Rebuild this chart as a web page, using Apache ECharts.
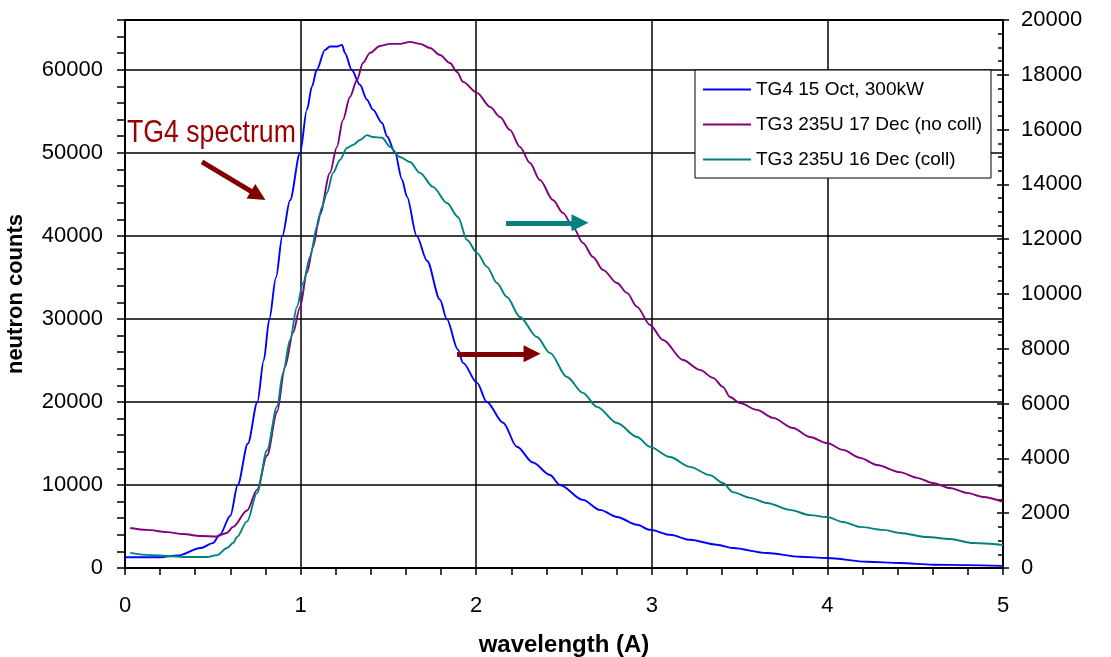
<!DOCTYPE html>
<html>
<head>
<meta charset="utf-8">
<script src="https://cdn.jsdelivr.net/npm/echarts@6/dist/echarts.min.js"></script>
<style>
  html, body { margin: 0; padding: 0; background: #fff; }
  #chart { width: 1111px; height: 657px; }
</style>
</head>
<body>
<div id="chart"></div>
<script>
// TG4 spectrum, 15 Oct, 300 kW (left axis)
const tg4Wavelength = [0.00, 0.10, 0.20, 0.30, 0.43, 0.50, 0.54, 0.60, 0.642, 0.70, 0.754, 0.79, 0.822, 0.86, 0.896, 0.94, 0.997, 1.036, 1.065, 1.092, 1.139, 1.167, 1.207, 1.236, 1.253, 1.291, 1.338, 1.378, 1.412, 1.464, 1.492, 1.538, 1.577, 1.606, 1.661, 1.72, 1.794, 1.832, 1.896, 1.925, 2.005, 2.06, 2.153, 2.232, 2.323, 2.42, 2.477, 2.608, 2.705, 2.802, 2.916, 2.99, 3.104, 3.217, 3.371, 3.462, 3.656, 3.844, 4.0, 4.226, 4.413, 4.601, 4.795, 5.0];
const tg4Counts = [1300, 1300, 1300, 1500, 2400, 3000, 4000, 6300, 10000, 15000, 20000, 25000, 30000, 35000, 40000, 44300, 50000, 55200, 58000, 60000, 62400, 62800, 62800, 63000, 62000, 60000, 58200, 56400, 55200, 53600, 52000, 50000, 46800, 44700, 40000, 37000, 32300, 30000, 26300, 24700, 22300, 20000, 17500, 14600, 12700, 11200, 10000, 8200, 7000, 6150, 5200, 4600, 4000, 3400, 2800, 2400, 1800, 1350, 1200, 750, 600, 400, 350, 250];

// TG3 235U, 17 Dec, no collimator (right axis)
const tg3NoCollWavelength = [0.03, 0.125, 0.24, 0.33, 0.43, 0.52, 0.58, 0.615, 0.695, 0.752, 0.809, 0.866, 0.911, 0.957, 0.997, 1.036, 1.071, 1.11, 1.167, 1.207, 1.241, 1.281, 1.321, 1.355, 1.395, 1.452, 1.509, 1.566, 1.623, 1.68, 1.737, 1.794, 1.851, 1.891, 1.925, 2.005, 2.079, 2.136, 2.192, 2.249, 2.306, 2.363, 2.437, 2.494, 2.551, 2.608, 2.665, 2.722, 2.802, 2.859, 2.916, 2.99, 3.064, 3.178, 3.274, 3.349, 3.405, 3.445, 3.502, 3.599, 3.69, 3.804, 3.901, 3.998, 4.089, 4.186, 4.282, 4.413, 4.51, 4.601, 4.698, 4.795, 4.886, 5.0];
const tg3NoCollCounts = [1460, 1390, 1310, 1240, 1170, 1150, 1280, 1500, 2100, 2850, 4100, 5700, 7340, 8580, 9530, 10770, 11720, 12900, 14420, 15370, 16350, 17190, 17810, 18430, 18800, 19050, 19130, 19130, 19200, 19130, 18980, 18720, 18430, 18100, 17740, 17340, 16830, 16460, 15990, 15370, 14780, 14160, 13430, 12960, 12450, 11860, 11350, 10880, 10400, 10040, 9530, 8870, 8320, 7590, 7230, 6940, 6610, 6240, 6020, 5770, 5480, 5110, 4780, 4560, 4310, 4020, 3760, 3500, 3290, 3100, 2920, 2740, 2590, 2410];

// TG3 235U, 16 Dec, with collimator (right axis)
const tg3CollWavelength = [0.03, 0.142, 0.24, 0.353, 0.467, 0.524, 0.581, 0.615, 0.638, 0.695, 0.752, 0.809, 0.866, 0.90, 0.94, 0.979, 1.014, 1.054, 1.093, 1.122, 1.15, 1.185, 1.224, 1.264, 1.298, 1.338, 1.378, 1.412, 1.464, 1.509, 1.566, 1.623, 1.68, 1.754, 1.834, 1.896, 1.948, 2.005, 2.062, 2.118, 2.175, 2.249, 2.346, 2.42, 2.517, 2.608, 2.688, 2.802, 2.916, 2.99, 3.104, 3.217, 3.331, 3.405, 3.462, 3.559, 3.656, 3.787, 3.901, 3.998, 4.089, 4.186, 4.317, 4.413, 4.567, 4.698, 4.829, 5.0];
const tg3CollCounts = [550, 470, 440, 400, 400, 470, 730, 910, 1130, 1700, 2740, 4300, 5900, 7120, 8320, 9530, 10400, 11350, 12450, 13180, 13690, 14420, 14890, 15330, 15440, 15620, 15800, 15730, 15700, 15370, 15000, 14820, 14420, 13910, 13320, 12810, 11970, 11500, 10990, 10400, 9890, 9160, 8430, 7850, 6970, 6390, 5880, 5290, 4780, 4420, 4050, 3690, 3390, 3100, 2770, 2560, 2370, 2120, 1930, 1860, 1680, 1500, 1390, 1280, 1130, 1060, 910, 840];

const seriesNames = ['TG4 15 Oct, 300kW', 'TG3 235U 17 Dec (no coll)', 'TG3 235U 16 Dec (coll)'];
const xTickLabels = ['0', '1', '2', '3', '4', '5'];

// Arrow annotations in left-axis data units: [x0, y0, x1, y1]
const arrowTG4 = [0.4385, 48920, 0.7585, 44840];
const arrowRedRight = [1.891, 25790, 2.318, 25790];
const arrowTealRight = [2.170, 41570, 2.591, 41570];

const FONT = 'Liberation Sans, Arial, sans-serif';
const BLACK = '#000';

function pairs(xs, ys) { return xs.map((x, i) => [x, ys[i]]); }
function arrow(a, color) {
  return [
    { coord: [a[0], a[1]], symbol: 'none', lineStyle: { color: color } },
    { coord: [a[2], a[3]], symbol: 'triangle', symbolSize: [17, 17], itemStyle: { color: color } }
  ];
}
function lineSeries(name, axis, xs, ys, color) {
  return {
    name: name, type: 'line', yAxisIndex: axis,
    data: pairs(xs, ys),
    symbol: 'none', smooth: 0.3, smoothMonotone: 'x',
    lineStyle: { color: color, width: 1.9 }, itemStyle: { color: color },
    emphasis: { disabled: true }
  };
}

const chart = echarts.init(document.getElementById('chart'), null, { renderer: 'canvas' });

const tg4 = lineSeries(seriesNames[0], 0, tg4Wavelength, tg4Counts, '#0000ff');
tg4.markLine = {
  silent: true, animation: false,
  label: { show: false },
  lineStyle: { type: 'solid', width: 5 },
  emphasis: { disabled: true },
  data: [
    arrow(arrowTG4, '#800000'),
    arrow(arrowRedRight, '#800000'),
    arrow(arrowTealRight, '#008080')
  ]
};

chart.setOption({
  animation: false,
  backgroundColor: '#fff',
  textStyle: { fontFamily: FONT },
  grid: {
    left: 125, right: 108, top: 20, bottom: 89,
    outerBoundsMode: 'none',
    show: true, borderColor: BLACK, borderWidth: 2, backgroundColor: 'transparent'
  },
  legend: {
    orient: 'vertical',
    left: 695, top: 70,
    padding: [9, 9, 8, 8],
    icon: 'rect',
    itemWidth: 48, itemHeight: 2, itemGap: 14,
    backgroundColor: '#fff', borderColor: BLACK, borderWidth: 1,
    textStyle: { fontFamily: FONT, fontSize: 19, color: BLACK, lineHeight: 21 },
    data: seriesNames
  },
  xAxis: {
    type: 'value', min: 0, max: 5, interval: 1,
    name: 'wavelength (A)', nameLocation: 'middle', nameGap: 65,
    nameTextStyle: { fontFamily: FONT, fontSize: 24, fontWeight: 'bold', color: BLACK },
    axisLine: { show: true, lineStyle: { color: BLACK, width: 2 } },
    axisTick: { show: true, length: 7, lineStyle: { color: BLACK, width: 1.5 } },
    minorTick: { show: true, splitNumber: 5, length: 7, lineStyle: { color: BLACK, width: 1.5 } },
    axisLabel: { fontSize: 22, color: BLACK, margin: 27, formatter: (v) => xTickLabels[Math.round(v)] },
    splitLine: { show: true, lineStyle: { color: BLACK, width: 1.5 } }
  },
  yAxis: [
    {
      // left: labels and grid lines
      type: 'value', min: 0, max: 66000, interval: 10000, position: 'left',
      name: 'neutron counts', nameLocation: 'middle', nameGap: 98, nameRotate: 90,
      nameTextStyle: { fontFamily: FONT, fontSize: 22, fontWeight: 'bold', color: BLACK },
      axisLine: { show: true, lineStyle: { color: BLACK, width: 2 } },
      axisTick: { show: false },
      axisLabel: { fontSize: 22, color: BLACK, margin: 22, formatter: (v) => (v % 10000 === 0 ? String(v) : '') },
      splitLine: { show: true, lineStyle: { color: BLACK, width: 1.5 } }
    },
    {
      // right: labels and outer half of major ticks
      type: 'value', min: 0, max: 20000, interval: 2000, position: 'right',
      axisLine: { show: true, lineStyle: { color: BLACK, width: 2 } },
      axisTick: { show: true, length: 6, lineStyle: { color: BLACK, width: 1.5 } },
      axisLabel: { fontSize: 22, color: BLACK, margin: 18, formatter: (v) => String(v) },
      splitLine: { show: false }
    },
    {
      // left tick marks every 2000
      type: 'value', min: 0, max: 66000, interval: 2000, position: 'left',
      axisLine: { show: false },
      axisTick: { show: true, length: 8, lineStyle: { color: BLACK, width: 1.5 } },
      axisLabel: { show: false },
      splitLine: { show: false }
    },
    {
      // right inner ticks, with minor ticks every 500
      type: 'value', min: 0, max: 20000, interval: 2000, position: 'right',
      axisLine: { show: false },
      axisTick: { show: true, inside: true, length: 6, lineStyle: { color: BLACK, width: 1.5 } },
      minorTick: { show: true, splitNumber: 4, length: 5, lineStyle: { color: BLACK, width: 1.5 } },
      axisLabel: { show: false },
      splitLine: { show: false }
    }
  ],
  graphic: [
    {
      type: 'text', left: 127, top: 118, scaleX: 0.86, silent: true,
      style: { text: 'TG4 spectrum', font: '31px ' + FONT, fill: '#990000' }
    }
  ],
  series: [
    tg4,
    lineSeries(seriesNames[1], 1, tg3NoCollWavelength, tg3NoCollCounts, '#800080'),
    lineSeries(seriesNames[2], 1, tg3CollWavelength, tg3CollCounts, '#008080')
  ]
});
</script>
</body>
</html>
